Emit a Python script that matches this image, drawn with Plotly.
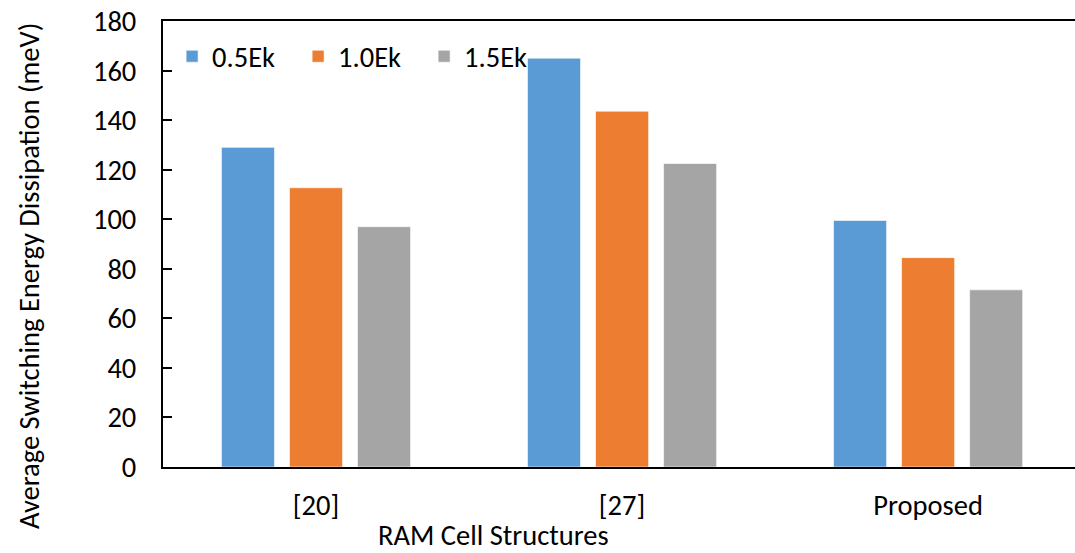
import plotly.graph_objects as go

categories = ["[20]", "[27]", "Proposed"]
series_names = ["0.5Ek", "1.0Ek", "1.5Ek"]
vals_05 = [129, 165, 99.5]
vals_10 = [112.7, 143.6, 84.5]
vals_15 = [97, 122.5, 71.5]
colors = ["#5B9BD5", "#ED7D31", "#A5A5A5"]
y_ticks = [0, 20, 40, 60, 80, 100, 120, 140, 160, 180]

FONT = "Calibri, Carlito, 'Open Sans', sans-serif"
FS = 28.5

fig = go.Figure()
for name, vals, c in zip(series_names, [vals_05, vals_10, vals_15], colors):
    fig.add_trace(go.Bar(
        x=categories, y=vals, name=name,
        marker=dict(color=c, line=dict(color="rgba(255,255,255,0.6)", width=1)),
    ))

fig.update_layout(
    width=1075, height=553,
    margin=dict(l=163, r=0, t=21, b=86),
    paper_bgcolor="white", plot_bgcolor="white",
    barmode="group", bargap=0.333, bargroupgap=0.22,
    font=dict(family=FONT, size=FS, color="black"),
    showlegend=True,
    legend=dict(orientation="h", x=0.01, y=0.92, xanchor="left", yanchor="middle",
                entrywidth=81, entrywidthmode="pixels", bgcolor="rgba(0,0,0,0)",
                font=dict(family=FONT, size=FS), itemwidth=30, tracegroupgap=0),
    xaxis=dict(type="category", range=[-0.5, 2.48], showline=True, linecolor="black",
               linewidth=2, mirror=True, ticks="", showgrid=False,
               tickfont=dict(family=FONT, size=FS), ticklabelstandoff=12),
    yaxis=dict(range=[0, 180], tickvals=y_ticks, showline=True, linecolor="black",
               linewidth=2, ticks="inside", ticklen=9, tickwidth=1.5, tickcolor="black",
               showgrid=False, zeroline=False,
               tickfont=dict(family=FONT, size=FS), ticklabelstandoff=19),
    annotations=[
        dict(text="Average Switching Energy Dissipation (meV)", xref="paper", yref="paper",
             x=-(163 - 29) / 912, y=1 - (276 - 21) / 446, textangle=-90, showarrow=False,
             xanchor="center", yanchor="middle", font=dict(family=FONT, size=FS)),
        dict(text="RAM Cell Structures", xref="paper", yref="paper",
             x=(493 - 163) / 912, y=-(535 - 467) / 446, showarrow=False,
             xanchor="center", yanchor="middle", font=dict(family=FONT, size=FS)),
    ],
)

fig.write_html("out.html", config={"displayModeBar": False},
               post_script="document.body.style.margin='0';document.body.style.overflow='hidden';")
